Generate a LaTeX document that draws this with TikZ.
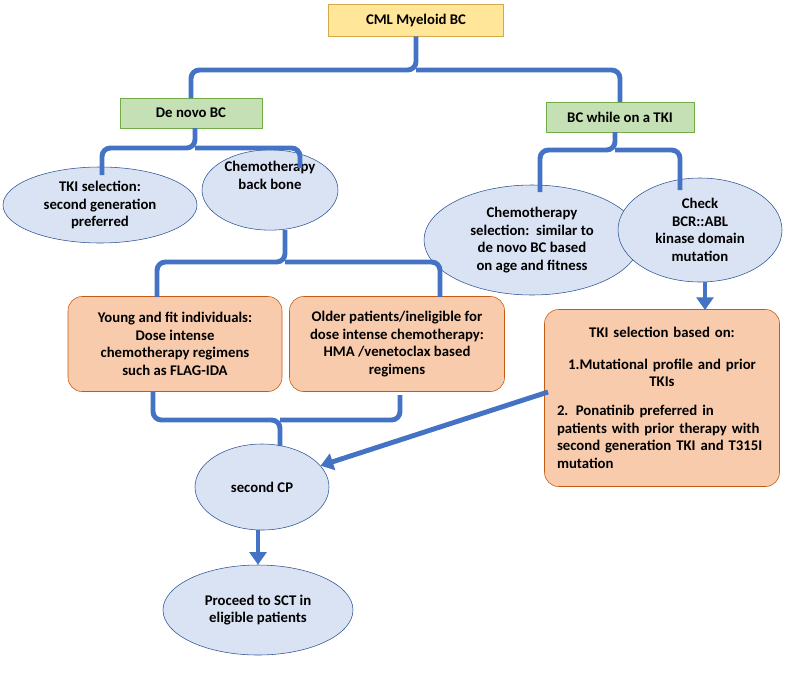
\documentclass[tikz,border=0pt]{standalone}
\usepackage{fontspec}
\setmainfont{Carlito}
\usetikzlibrary{arrows.meta, positioning, shapes.geometric}
\definecolor{bracecol}{HTML}{4472C4}
\definecolor{ellfill}{HTML}{DAE3F3}
\definecolor{ellline}{HTML}{2F5597}
\definecolor{orfill}{HTML}{F8CBAD}
\definecolor{orline}{HTML}{C55A11}
\definecolor{grfill}{HTML}{C5E0B4}
\definecolor{grline}{HTML}{70AD47}
\definecolor{yefill}{HTML}{FFE699}
\definecolor{yeline}{HTML}{D6A84A}
\begin{document}
\begin{tikzpicture}[x=0.025cm, y=-0.025cm,
    font=\fontsize{10.5}{12.5}\selectfont\bfseries,
    topbox/.style = {draw=yeline, fill=yefill, rectangle, minimum width=175*0.025cm, minimum height=32*0.025cm},
    gbox/.style = {draw=grline, fill=grfill, rectangle, minimum height=30*0.025cm},
    oval/.style = {draw=ellline, fill=ellfill, ellipse, inner sep=0pt, align=center},
    obox/.style = {draw=orline, fill=orfill, rectangle, rounded corners=10pt, align=center},
    brace/.style = {draw=bracecol, line width=3.5pt, rounded corners=6pt},
    bigarrow/.style = {draw=bracecol, line width=3.5pt, -{Triangle[length=9pt,width=12pt]}}
  ]
\useasboundingbox (0,0) rectangle (786,677);
\node[topbox] (cml) at (416,20) {CML Myeloid BC};
\node[gbox, minimum width=142*0.025cm] (denovo) at (191,113) {De novo BC};
\node[gbox, minimum width=148*0.025cm] (ontki) at (620,117) {BC while on a TKI};

\node[oval, minimum width=194*0.025cm, minimum height=76*0.025cm] (tkisel) at (100,205) {TKI selection:\\second generation\\preferred};
\node[oval, minimum width=136*0.025cm, minimum height=80*0.025cm] (backbone) at (270,190) {Chemotherapy\\back bone\\[8pt]};
\node[oval, minimum width=216*0.025cm, minimum height=110*0.025cm] (chemosel) at (532,240) {Chemotherapy\\selection:\ \ similar to\\de novo BC based\\on age and fitness};
\node[oval, minimum width=164*0.025cm, minimum height=104*0.025cm] (check) at (700,230) {Check\\BCR::ABL\\kinase domain\\mutation};

\node[obox, minimum width=214*0.025cm, minimum height=95*0.025cm] (young) at (175,344) {Young and fit individuals:\\Dose intense\\chemotherapy regimens\\such as FLAG-IDA};
\node[obox, minimum width=215*0.025cm, minimum height=95*0.025cm] (older) at (397,344) {Older patients/ineligible for\\dose intense chemotherapy:\\HMA /venetoclax based\\regimens};
\node[obox, minimum width=235*0.025cm, minimum height=177*0.025cm, align=left, text width=210*0.025cm] (tkibased) at (662,398) {\centering TKI selection based on:\\[10pt]
  1.Mutational profile and prior\\ TKIs\\[8pt]
  \raggedright 2. Ponatinib preferred in patients with prior therapy with second generation TKI and T315I mutation\par};

\node[oval, minimum width=134*0.025cm, minimum height=86*0.025cm] (cp) at (262,487) {second CP};
\node[oval, minimum width=190*0.025cm, minimum height=90*0.025cm] (sct) at (258,610) {Proceed to SCT in\\eligible patients};

% braces
\draw[brace] (cml.south) -- (416,70) -| (191,98);
\draw[brace] (416,70) -| (620,102);
\draw[brace] (195,128) -- (195,148) -| (102,175);
\draw[brace] (195,148) -| (300,168);
\draw[brace] (615,132) -- (615,150) -| (540,192);
\draw[brace] (615,150) -| (680,190);
\draw[brace] (285,230) -- (285,262) -| (157,297);
\draw[brace] (285,262) -| (440,297);
\draw[brace] (153,392) |- (280,420) -- (280,446);
\draw[brace] (400,395) |- (280,420);

% arrows
\draw[bigarrow] (705,282) -- (705,310);
\draw[bigarrow] (548,392) -- (cp.20);
\draw[bigarrow] (258,530) -- (sct.north -| 258,0);
\end{tikzpicture}
\end{document}
